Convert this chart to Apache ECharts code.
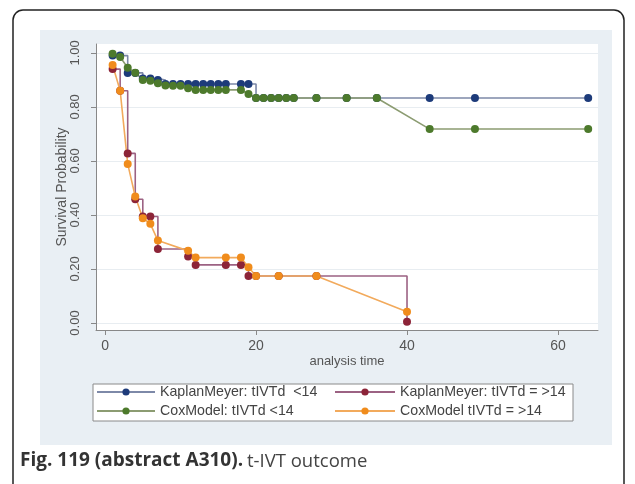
<!DOCTYPE html>
<html>
<head>
<meta charset="utf-8">
<script src="https://cdn.jsdelivr.net/npm/echarts@6/dist/echarts.min.js"></script>
<style>
  html, body { margin: 0; padding: 0; background: #fff; }
  #chart { width: 635px; height: 484px; }
</style>
</head>
<body>
<div id="chart"></div>
<script>
// ticks
const xTicks = [0, 20, 40, 60];
const yTicks = [0, 0.2, 0.4, 0.6, 0.8, 1.0];

// KaplanMeyer: tIVTd <14
const kmLowT = [1, 2, 3, 4, 5, 6, 7, 8, 9, 10, 11, 12, 13, 14, 15, 16, 18, 19, 20, 21, 22, 23, 24, 25, 28, 32, 36, 43, 49, 64];
const kmLowS = [0.99, 0.99, 0.926, 0.926, 0.905, 0.905, 0.9, 0.885, 0.885, 0.885, 0.885, 0.885, 0.885, 0.885, 0.885, 0.885, 0.885, 0.885, 0.833, 0.833, 0.833, 0.833, 0.833, 0.833, 0.833, 0.833, 0.833, 0.833, 0.833, 0.833];

// CoxModel: tIVTd <14
const coxLowT = [1, 2, 3, 4, 5, 6, 7, 8, 9, 10, 11, 12, 13, 14, 15, 16, 18, 19, 20, 21, 22, 23, 24, 25, 28, 32, 36, 43, 49, 64];
const coxLowS = [0.997, 0.985, 0.945, 0.927, 0.9, 0.897, 0.888, 0.879, 0.878, 0.878, 0.869, 0.863, 0.863, 0.863, 0.863, 0.863, 0.863, 0.848, 0.833, 0.833, 0.833, 0.833, 0.833, 0.833, 0.833, 0.833, 0.833, 0.718, 0.718, 0.718];

// KaplanMeyer: tIVTd = >14
const kmHighT = [1, 2, 3, 4, 5, 6, 7, 11, 12, 16, 18, 19, 20, 23, 28, 40];
const kmHighS = [0.94, 0.86, 0.628, 0.458, 0.394, 0.394, 0.274, 0.246, 0.215, 0.215, 0.215, 0.174, 0.174, 0.174, 0.174, 0.005];

// CoxModel tIVTd = >14
const coxHighT = [1, 2, 3, 4, 5, 6, 7, 11, 12, 16, 18, 19, 20, 23, 28, 40];
const coxHighS = [0.955, 0.86, 0.589, 0.468, 0.388, 0.367, 0.305, 0.267, 0.242, 0.242, 0.242, 0.206, 0.174, 0.174, 0.174, 0.042];

const names = ['KaplanMeyer: tIVTd  <14', 'KaplanMeyer: tIVTd = >14', 'CoxModel: tIVTd <14', 'CoxModel tIVTd = >14'];

function zip(t, s) {
    let out = [];
    for (let i = 0; i < t.length; i++) {
        out.push([t[i], s[i]]);
    }
    return out;
}

function makeSeries(name, data, lineColor, dotColor, step) {
    return {
        name: name,
        type: 'line',
        data: data,
        step: step,
        symbol: 'circle',
        symbolSize: 8,
        showAllSymbol: true,
        lineStyle: { color: lineColor, width: 1.6 },
        itemStyle: { color: dotColor },
        emphasis: { disabled: true }
    };
}

function makeLegend(name, left, top, width) {
    return {
        data: [name],
        left: left,
        top: top,
        padding: 0,
        itemWidth: width,
        itemHeight: 9,
        selectedMode: false,
        textStyle: { fontFamily: 'Liberation Sans', fontSize: 14.2, color: '#444' }
    };
}

var myChart = echarts.init(document.getElementById('chart'));

let option = {
    animation: false,
    graphic: {
        elements: [
            { type: 'rect', z: -10, shape: { x: 13, y: 10, width: 611, height: 500, r: 10 },
              style: { fill: '#fff', stroke: '#222', lineWidth: 1.5 } },
            { type: 'rect', z: -9, shape: { x: 40, y: 30, width: 572, height: 415 },
              style: { fill: '#e9eff4' } },
            { type: 'rect', z: 1, shape: { x: 93, y: 384, width: 480, height: 37 },
              style: { fill: '#fff', stroke: '#8a8a8a', lineWidth: 1 } },
            { type: 'text', z: 1, left: 20, top: 451,
              style: { text: 'Fig. 119 (abstract A310).', fontFamily: 'Open Sans', fontWeight: 'bold', fontSize: 19, fill: '#333' } },
            { type: 'text', z: 1, left: 247, top: 452,
              style: { text: 't-IVT outcome', fontFamily: 'Open Sans', fontSize: 18.5, fill: '#444' } }
        ]
    },
    grid: {
        left: 96, top: 44, right: 37, bottom: 154,
        show: true, backgroundColor: '#fff', borderWidth: 0
    },
    xAxis: {
        type: 'value',
        min: -1.2, max: 65.3,
        name: 'analysis time',
        nameLocation: 'middle',
        nameGap: 25,
        nameMoveOverlap: false,
        nameTextStyle: { fontFamily: 'Liberation Sans', fontSize: 13, color: '#555' },
        axisLine: { show: true, onZero: false, lineStyle: { color: '#888', width: 1 } },
        axisTick: { show: true, length: 5, customValues: xTicks, lineStyle: { color: '#888' } },
        axisLabel: { customValues: xTicks, margin: 9, fontFamily: 'Liberation Sans', fontSize: 14, color: '#555' },
        splitLine: { show: false }
    },
    yAxis: {
        type: 'value',
        min: -0.026, max: 1.033,
        name: 'Survival Probability',
        nameLocation: 'middle',
        nameGap: 27,
        nameRotate: 90,
        nameMoveOverlap: false,
        nameTextStyle: { fontFamily: 'Liberation Sans', fontSize: 14, color: '#555' },
        axisLine: { show: true, onZero: false, lineStyle: { color: '#888', width: 1 } },
        axisTick: { show: true, length: 5, customValues: yTicks, lineStyle: { color: '#888' } },
        axisLabel: {
            customValues: yTicks, rotate: 90, margin: 14,
            fontFamily: 'Liberation Sans', fontSize: 13, color: '#555',
            formatter: v => v.toFixed(2)
        },
        splitLine: { show: true, lineStyle: { color: '#e8edf1', width: 1 } }
    },
    legend: [
        makeLegend(names[0], 96, 385, 58),
        makeLegend(names[1], 334, 385, 60),
        makeLegend(names[2], 96, 404, 58),
        makeLegend(names[3], 334, 404, 60)
    ],
    series: [
        makeSeries(names[0], zip(kmLowT, kmLowS), '#7d89a8', '#1d3b7a', 'end'),
        makeSeries(names[1], zip(kmHighT, kmHighS), '#9c6283', '#8c2438', 'end'),
        makeSeries(names[2], zip(coxLowT, coxLowS), '#8c9c72', '#4d7a2c', false),
        makeSeries(names[3], zip(coxHighT, coxHighS), '#f2aa5c', '#f08c1c', false)
    ]
};

myChart.setOption(option);
</script>
</body>
</html>
